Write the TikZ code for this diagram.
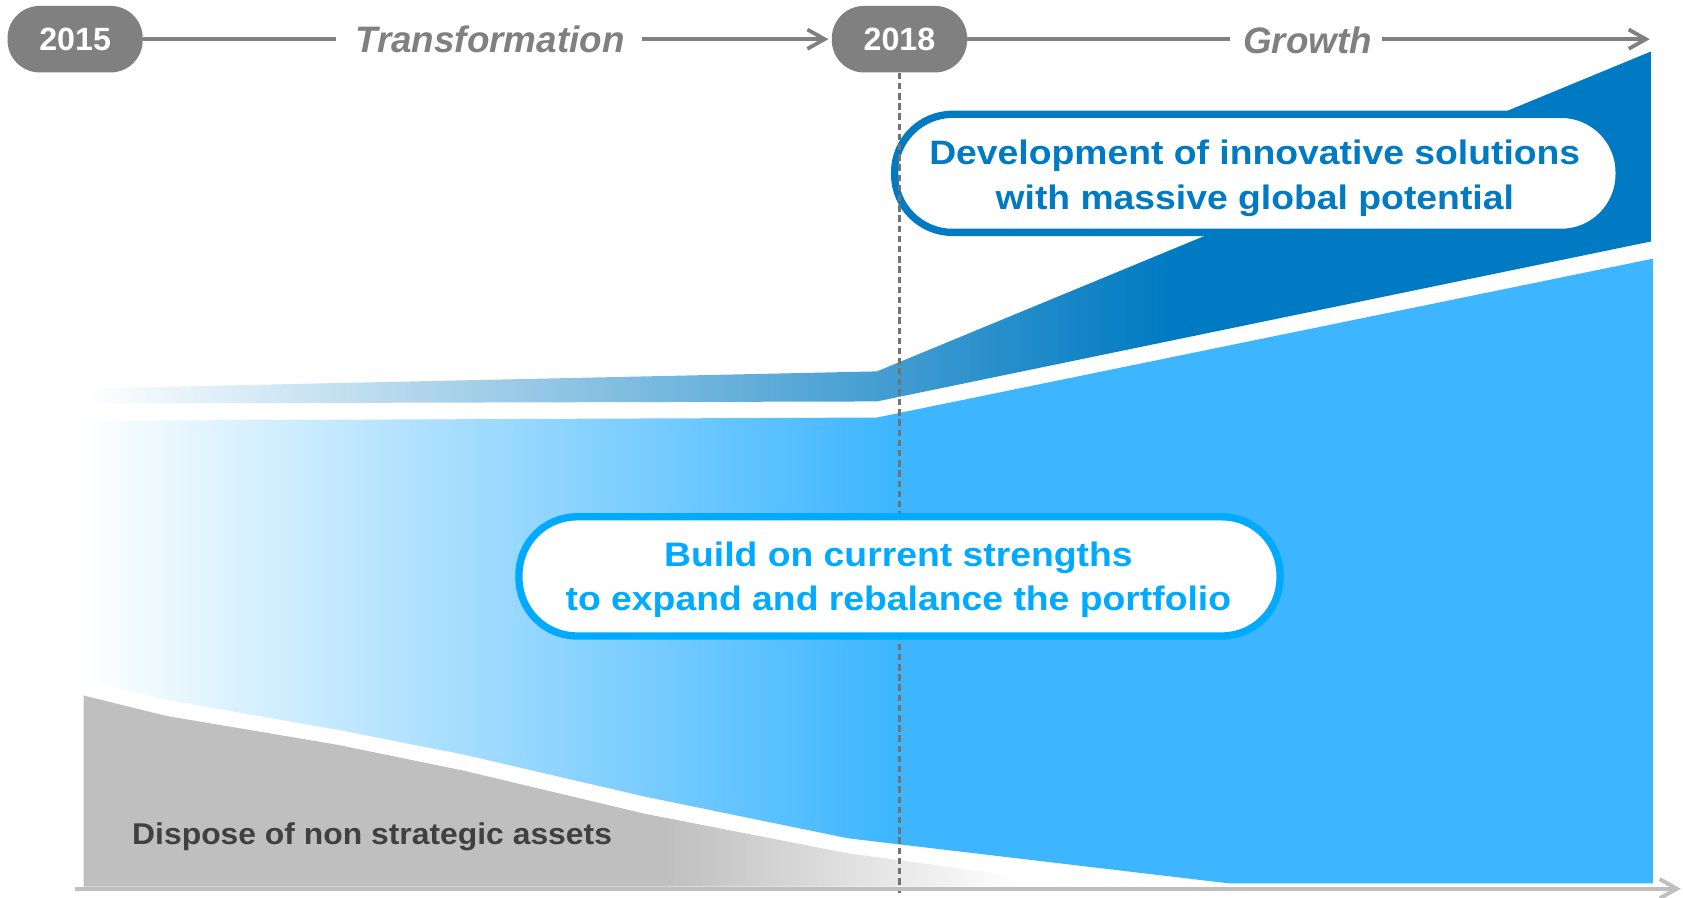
\documentclass[tikz,border=0pt]{standalone}
\usepackage{fontspec}
\setmainfont{Liberation Sans}
\newfontfamily\widefont[FakeStretch=1.1]{Liberation Sans}
\newfontfamily\dispfont[FakeStretch=1.06]{Liberation Sans}
\usetikzlibrary{arrows.meta}
\definecolor{pillgray}{RGB}{128,128,128}
\definecolor{darkblue}{RGB}{0,122,194}
\definecolor{lightblue}{RGB}{62,182,255}
\definecolor{callblue}{RGB}{0,170,255}
\definecolor{areagray}{RGB}{191,191,191}
\definecolor{axisgray}{RGB}{191,191,191}
\definecolor{textdark}{RGB}{64,64,64}
\tikzset{
  pill/.style={fill=pillgray, rounded corners=30pt, minimum width=126pt, minimum height=62pt,
    inner sep=0pt, text=white, font=\fontsize{30pt}{36pt}\selectfont\bfseries},
  phase/.style={text=pillgray, inner sep=0pt, font=\fontsize{34.3pt}{40pt}\selectfont\bfseries\itshape},
  timeline/.style={draw=pillgray, line width=3.5pt},
  barbarrow/.style={-{Straight Barb[length=16pt,width=18pt]}},
  callout/.style={fill=white, line width=6.8pt, rounded corners=54pt, inner sep=0pt},
  callouttext/.style={align=center, inner sep=0pt,
    font=\widefont\bfseries\fontsize{31.6pt}{41.5pt}\selectfont},
  divider/.style={draw=pillgray!90!black, line width=2.3pt, dash pattern=on 6pt off 3.5pt},
}
\begin{document}
\begin{tikzpicture}[x=1pt,y=-1pt]
\useasboundingbox (0,0) rectangle (1568,836);

% dark band (innovation)
\begin{scope}
  \clip (78,362) -- (817,346) -- (1538,48) -- (1538,225) -- (817,374) -- (78,376) -- cycle;
  \shade[left color=white,right color=darkblue] (78,40) rectangle (1090,380);
  \fill[darkblue] (1089,40) rectangle (1545,380);
\end{scope}

% light blue area (current strengths)
\begin{scope}
  \clip (78,392) -- (817,389) -- (1540,241) -- (1540,823) -- (1145,823) -- (790,781)
     -- (600,742) -- (432,703) -- (315,680) -- (155,652) -- (78,633) -- cycle;
  \shade[left color=white,right color=lightblue] (78,230) rectangle (830,830);
  \fill[lightblue] (829,230) rectangle (1545,830);
\end{scope}

% gray area (dispose)
\begin{scope}
  \clip (78,648) -- (155,667) -- (315,694) -- (432,718) -- (600,758) -- (790,795)
     -- (1020,826) -- (78,826) -- cycle;
  \fill[areagray] (70,640) rectangle (621,830);
  \shade[left color=areagray,right color=white] (620,640) rectangle (950,830);
\end{scope}

\node[anchor=base west, text=textdark, inner sep=0pt,
  font=\dispfont\bfseries\fontsize{28pt}{34pt}\selectfont] (dispose) at (123,787)
  {Dispose of non strategic assets};

% top timeline
\node[pill] (p15) at (70,36.5) {2015};
\node[pill] (p18) at (838,36.5) {2018};
\node[phase, anchor=base] (trans) at (456.5,48.7) {Transformation};
\node[phase, anchor=base] (grow) at (1218.2,49.5) {Growth};
\coordinate (growend) at (1537,36.5);

\draw[timeline] (p15.east) -- ([xshift=-18pt]p15.east -| trans.west);
\draw[timeline, barbarrow, shorten >=3pt] ([xshift=16pt]p18.west -| trans.east) -- (p18.west);
\draw[timeline] (p18.east) -- ([xshift=-12pt]p18.east -| grow.west);
\draw[timeline, barbarrow] ([xshift=9pt]growend -| grow.east) -- (growend);

% callout 1
\node[callout, draw=darkblue, minimum width=675pt, minimum height=110pt] (c1) at (1171,161.5) {};
\node[callouttext, text=darkblue] (t1) at (1169,166)
  {Development of innovative solutions\\with massive global potential};

% divider
\coordinate (dashend) at (838,832);
\draw[divider] (p18.south) -- (dashend);

% callout 2
\node[callout, draw=callblue, minimum width=709pt, minimum height=111pt] (c2) at (838,537) {};
\node[callouttext, text=callblue] (t2) at (837,540)
  {Build on current strengths\\to expand and rebalance the portfolio};

% bottom axis
\coordinate (axstart) at (70,828);
\coordinate (axend) at (1566,828);
\draw[axisgray, line width=3.7pt, barbarrow] (axstart) -- (axend);
\end{tikzpicture}
\end{document}
